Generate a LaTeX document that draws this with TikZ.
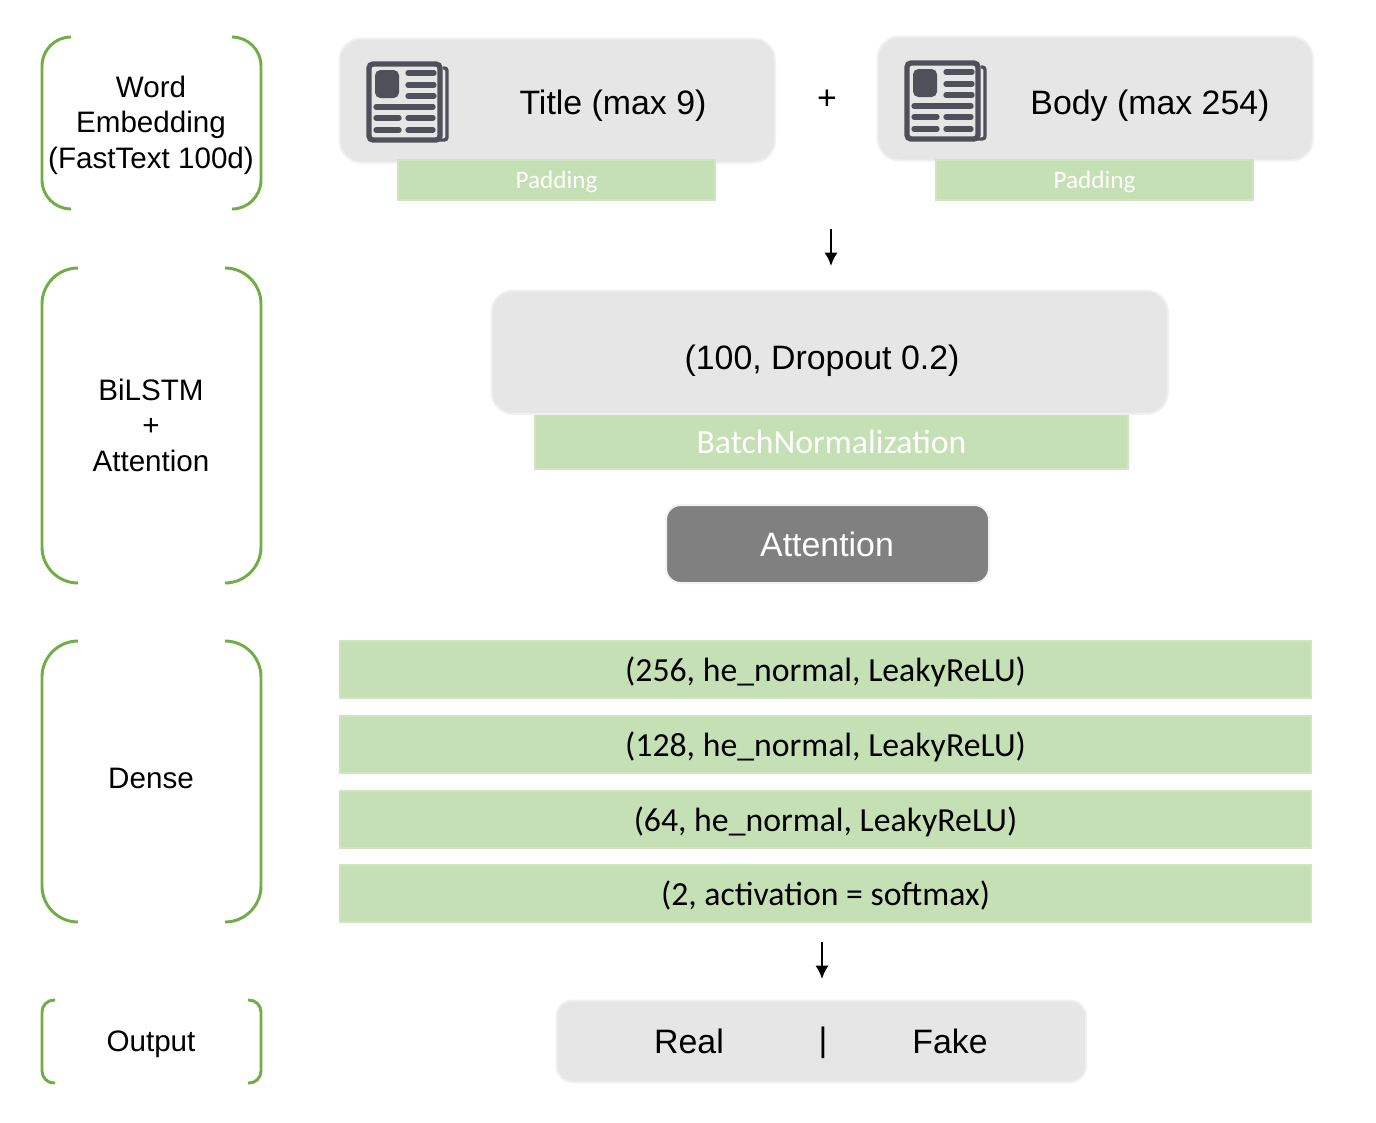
\documentclass[tikz,border=0pt]{standalone}
\usepackage{fontspec}
\usetikzlibrary{arrows.meta}
\setmainfont{Liberation Sans}
\newfontfamily\calibrifont{Carlito}
\definecolor{boxgrey}{RGB}{230,230,230}
\definecolor{bargreen}{RGB}{197,224,180}
\definecolor{bracegreen}{RGB}{112,173,71}
\definecolor{icongrey}{RGB}{80,80,90}
\tikzset{every picture/.style={line width=0.75pt}}
\tikzset{
  greybox/.style={draw=boxgrey!60!white,fill=boxgrey,rounded corners=16.5pt,line width=1.5pt,minimum height=0},
  greenbar/.style={draw=bargreen!85!white,fill=bargreen,line width=1pt},
  padtext/.style={inner sep=0pt,text=white,font=\calibrifont\fontsize{18.9}{18.9}\selectfont},
  bartext/.style={inner sep=0pt,font=\calibrifont\fontsize{25.3}{25.3}\selectfont},
  boxtext/.style={inner sep=0pt,font=\fontsize{25.4}{25.4}\selectfont},
  sidetext/.style={inner sep=0pt,align=center,font=\fontsize{22.2}{26.6}\selectfont},
  sidebrace/.style={draw=bracegreen,line width=2.2pt},
  flowarrow/.style={-{Latex[length=10pt,width=10pt]},line width=2pt},
  newsicon/.pic={
    \draw [icongrey,line width=4pt,rounded corners=3pt] (2,3) rectangle (73,79);
    \draw [icongrey,line width=2.5pt,rounded corners=2pt] (76,7) -- (80,7) -- (80,79) -- (72,79);
    \fill [icongrey,rounded corners=4pt] (8,9) rectangle (32,37);
    \foreach \y in {12,24,35} \draw [icongrey,line width=4pt,line cap=round] (41,\y) -- (67,\y);
    \draw [icongrey,line width=4pt,line cap=round] (9,46) -- (66,46);
    \foreach \y in {57,69} {
      \draw [icongrey,line width=4pt,line cap=round] (9,\y) -- (32,\y);
      \draw [icongrey,line width=4pt,line cap=round] (41,\y) -- (66,\y);
    }
  }
}
% left, right, top, bottom, arm, radius
\newcommand{\sidepair}[6]{
  \draw [sidebrace] (#1+#5,#3) -- (#1+#6,#3) arc (-90:-180:#6) -- (#1,#4-#6) arc (180:90:#6) -- (#1+#5,#4);
  \draw [sidebrace] (#2-#5,#3) -- (#2-#6,#3) arc (-90:0:#6) -- (#2,#4-#6) arc (0:90:#6) -- (#2-#5,#4);
}

\begin{document}
\begin{tikzpicture}[x=0.75pt,y=0.75pt,yscale=-1,xscale=1]
\useasboundingbox (0,0) rectangle (1376,1122);

% Side brackets
\sidepair{42}{261}{37}{209}{29}{29}
\sidepair{42}{261}{268}{583}{36}{36}
\sidepair{42}{261}{641}{922}{36}{36}
\sidepair{42}{261}{1000}{1083}{13}{12}

% Side labels
\node [sidetext] (wordlabel) at (151,125) {Word\\Embedding\\(FastText 100d)};
\node [sidetext] (bilstmlabel) at (151,425) {BiLSTM\\+\\Attention};
\node [sidetext] (denselabel) at (151,778) {Dense};
\node [sidetext] (outputlabel) at (151,1044) {Output};

% Input row
\draw [greybox] (339.5,38.5) rectangle (775,162.5);
\draw [greybox] (877.5,36.5) rectangle (1313,160.5);
\draw [greenbar] (398,160) rectangle (715,200);
\draw [greenbar] (936,160) rectangle (1253,200);
\pic [yscale=-1] at (367,61) {newsicon};
\pic [yscale=-1] at (905,60) {newsicon};
\node [boxtext] (titletext) at (613,106) {Title (max 9)};
\node [boxtext] (bodytext) at (1150,106) {Body (max 254)};
\node [boxtext] (plustext) at (827,100) {+};
\node [padtext] (padleft) at (556.5,182) {Padding};
\node [padtext] (padright) at (1094.5,182) {Padding};

% Arrow to BiLSTM
\coordinate (inputend) at (831,229);
\coordinate (lstmtop) at (831,266);
\draw [flowarrow] (inputend) -- (lstmtop);

% BiLSTM
\draw [greenbar] (535,410) rectangle (1128,469);
\draw [greybox] (491.5,290.5) rectangle (1168,414);
\node [boxtext] (lstmtext) at (822,361) {(100, Dropout 0.2)};
\node [padtext,font=\calibrifont\fontsize{25.3}{25.3}\selectfont] (batchtext) at (831.5,442) {BatchNormalization};

% Attention
\draw [draw=boxgrey!50!white,fill=black!50,rounded corners=11pt,line width=1.5pt] (666,505) rectangle (989,583);
\node [boxtext,text=white] (attentext) at (827,544) {Attention};

% Dense bars
\draw [greenbar] (340,641) rectangle (1311,698);
\draw [greenbar] (340,716) rectangle (1311,773);
\draw [greenbar] (340,791) rectangle (1311,848);
\draw [greenbar] (340,865) rectangle (1311,922);
\node [bartext] (dense256) at (825.5,672) {(256, he\_normal, LeakyReLU)};
\node [bartext] (dense128) at (825.5,747) {(128, he\_normal, LeakyReLU)};
\node [bartext] (dense64) at (825.5,822) {(64, he\_normal, LeakyReLU)};
\node [bartext] (dense2) at (825.5,895) {(2, activation = softmax)};

% Arrow to output
\coordinate (denseend) at (822,942);
\coordinate (outtop) at (822,979);
\draw [flowarrow] (denseend) -- (outtop);

% Output
\draw [greybox,rounded corners=12pt] (556.5,1000.5) rectangle (1086,1082);
\node [boxtext] (realtext) at (689,1041) {Real};
\node [boxtext] (sepbar) at (823,1043) {|};
\node [boxtext] (faketext) at (950,1041) {Fake};
\end{tikzpicture}
\end{document}
